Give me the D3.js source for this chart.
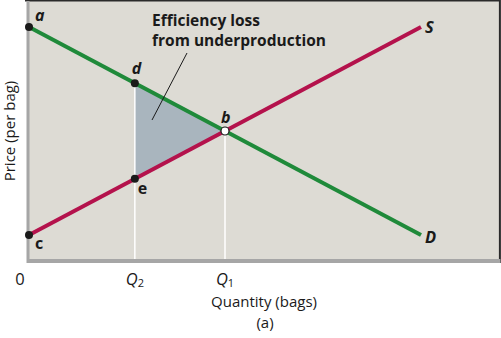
<!DOCTYPE html>
<html>
<head>
<meta charset="utf-8">
<script src="https://cdn.jsdelivr.net/npm/d3@7"></script>
<style>
  html, body { margin: 0; padding: 0; background: #fff; }
  svg { display: block; }
  text { font-family: "Open Sans", Lato, sans-serif; fill: #1a1a1a; }
</style>
</head>
<body>
<svg id="chart" width="501" height="338"></svg>
<script>
// Demand and supply schedules (quantity, price)
const demand = [{ q: 0, p: 9 }, { q: 20, p: 1 }];
const supply = [{ q: 0, p: 1 }, { q: 20, p: 9 }];

// Equilibrium output and restricted output
const qEquilibrium = 10;
const qRestricted = 5.4;

// Point labels
const pointNames = ["a", "d", "b", "e", "c"];
const tickLabels = [
  { q: 0, base: "0", sub: "" },
  { q: qRestricted, base: "Q", sub: "2" },
  { q: qEquilibrium, base: "Q", sub: "1" }
];

const svg = d3.select("#chart");

const x = d3.scaleLinear().domain([0, 24]).range([29, 499.4]);
const y = d3.scaleLinear().domain([0, 10]).range([261, 1]);

const lineOf = (a, b) => q => a.p + (b.p - a.p) * (q - a.q) / (b.q - a.q);
const demandAt = lineOf(demand[0], demand[1]);
const supplyAt = lineOf(supply[0], supply[1]);

// Plot background
svg.append("rect")
  .attr("x", x(0) - 2).attr("y", y(10))
  .attr("width", x(24) - x(0) + 2).attr("height", y(0) - y(10))
  .attr("fill", "#dddbd4");

// Frame: dark top/right edges
svg.append("path")
  .attr("d", `M${x(0) - 4},${y(10) - 0.5} H${x(24) + 0.5} V${y(0) + 2}`)
  .attr("fill", "none").attr("stroke", "#2a2a2a").attr("stroke-width", 2);

// Deadweight loss triangle
const tri = [
  [qRestricted, demandAt(qRestricted)],
  [qEquilibrium, demandAt(qEquilibrium)],
  [qRestricted, supplyAt(qRestricted)]
];
svg.append("path")
  .attr("d", d3.line().x(d => x(d[0])).y(d => y(d[1]))(tri) + "Z")
  .attr("fill", "#a9b5be");

// White guide lines down to the quantity axis
[[qRestricted, demandAt(qRestricted)], [qEquilibrium, demandAt(qEquilibrium)]].forEach(([q, p]) => {
  svg.append("line")
    .attr("x1", x(q)).attr("x2", x(q))
    .attr("y1", y(p)).attr("y2", y(0))
    .attr("stroke", "#ffffff").attr("stroke-width", 1.5);
});

// Axes (grey bands)
svg.append("line")
  .attr("x1", x(0) - 2).attr("x2", x(24) + 1)
  .attr("y1", y(0)).attr("y2", y(0))
  .attr("stroke", "#a6a6a6").attr("stroke-width", 4);
svg.append("line")
  .attr("x1", x(0) - 1).attr("x2", x(0) - 1)
  .attr("y1", y(10)).attr("y2", y(0) + 2)
  .attr("stroke", "#a6a6a6").attr("stroke-width", 3);

// Curves
const curve = d3.line().x(d => x(d.q)).y(d => y(d.p));
svg.append("path").attr("d", curve(supply))
  .attr("fill", "none").attr("stroke", "#b4124c").attr("stroke-width", 4);
svg.append("path").attr("d", curve(demand))
  .attr("fill", "none").attr("stroke", "#1f8a3a").attr("stroke-width", 4);

// Curve labels
svg.append("text").attr("x", x(20) + 4).attr("y", y(9) + 6)
  .attr("font-size", 16.5).attr("font-weight", "bold").attr("font-style", "italic").text("S");
svg.append("text").attr("x", x(20) + 4).attr("y", y(1) + 8)
  .attr("font-size", 16.5).attr("font-weight", "bold").attr("font-style", "italic").text("D");

// Points
const points = [
  { name: pointNames[0], q: 0, p: demandAt(0), dx: 6, dy: -6, italic: true, open: false },
  { name: pointNames[1], q: qRestricted, p: demandAt(qRestricted), dx: -3, dy: -9, italic: true, open: false },
  { name: pointNames[2], q: qEquilibrium, p: demandAt(qEquilibrium), dx: -4, dy: -8, italic: true, open: true },
  { name: pointNames[3], q: qRestricted, p: supplyAt(qRestricted), dx: 3, dy: 15, italic: false, open: false },
  { name: pointNames[4], q: 0, p: supplyAt(0), dx: 6, dy: 14, italic: false, open: false }
];
points.forEach(d => {
  svg.append("circle")
    .attr("cx", x(d.q)).attr("cy", y(d.p)).attr("r", 4)
    .attr("fill", d.open ? "#ffffff" : "#1a1a1a")
    .attr("stroke", "#1a1a1a").attr("stroke-width", d.open ? 1.2 : 0);
  svg.append("text")
    .attr("x", x(d.q) + d.dx).attr("y", y(d.p) + d.dy)
    .attr("font-size", 16).attr("font-weight", "bold")
    .attr("font-style", d.italic ? "italic" : "normal")
    .text(d.name);
});

// Annotation
const note = svg.append("text").attr("x", 152).attr("y", 26)
  .attr("font-size", 15.5).attr("font-weight", "bold");
note.append("tspan").attr("x", 152).text("Efficiency loss");
note.append("tspan").attr("x", 152).attr("dy", 20).text("from underproduction");
svg.append("line")
  .attr("x1", 187).attr("y1", 53).attr("x2", 152).attr("y2", 120)
  .attr("stroke", "#1a1a1a").attr("stroke-width", 1);

// Quantity tick labels
const ticks = svg.append("g").attr("font-size", 16.5);
tickLabels.forEach(t => {
  const tx = ticks.append("text")
    .attr("x", x(t.q) + (t.q === 0 ? -9 : 0)).attr("y", 285)
    .attr("text-anchor", "middle");
  tx.append("tspan").attr("font-style", t.sub ? "italic" : "normal").text(t.base);
  if (t.sub) tx.append("tspan").attr("font-size", 11).attr("dy", 2).text(t.sub);
});

// Axis titles
svg.append("text").attr("x", 264).attr("y", 307).attr("text-anchor", "middle")
  .attr("font-size", 15).text("Quantity (bags)");
svg.append("text").attr("x", 265).attr("y", 328).attr("text-anchor", "middle")
  .attr("font-size", 15).text("(a)");
svg.append("text")
  .attr("transform", "translate(15,131) rotate(-90)")
  .attr("text-anchor", "middle").attr("font-size", 15).text("Price (per bag)");
</script>
</body>
</html>
